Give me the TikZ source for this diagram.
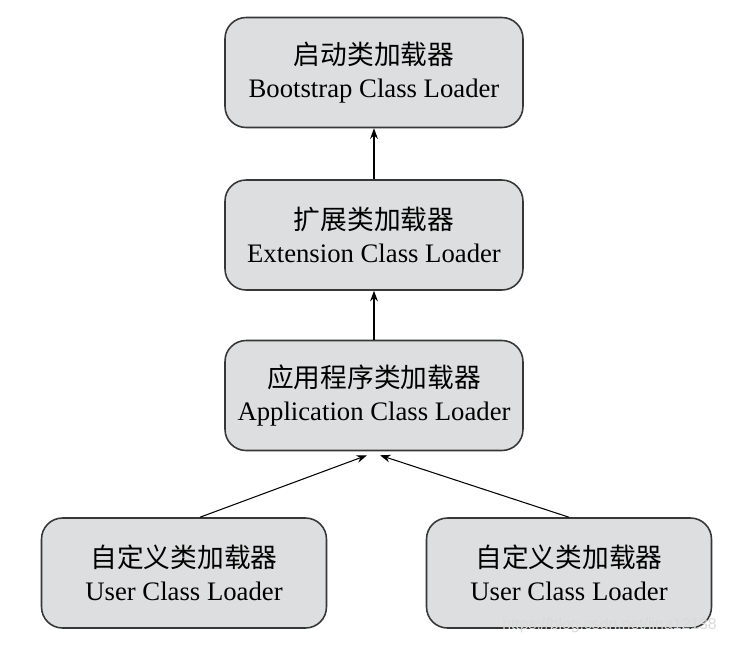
\documentclass[tikz,border=0pt]{standalone}
\usepackage{fontspec}
\setmainfont{Liberation Serif}
\newfontfamily\cjk{Noto Sans CJK SC}
\newfontfamily\wmfont{Liberation Sans}
\usetikzlibrary{positioning,arrows.meta}
\definecolor{boxgray}{RGB}{221,222,223}
\definecolor{boxline}{RGB}{55,55,55}
\tikzset{
  loaderbox/.style={draw=boxline, fill=boxgray, line width=0.9pt, rounded corners=0.42cm,
                    align=center, font=\fontsize{15.2}{17.5}\selectfont,
                    minimum width=5.96cm, minimum height=2.2cm, inner sep=0pt},
  userbox/.style={loaderbox, minimum width=5.7cm},
  parentarr/.style={-{Stealth[length=6pt,width=4.4pt]}, draw=black, line width=0.6pt},
}
\newcommand{\ldrtext}[2]{{\cjk #1}\\[1pt]#2}
\newcommand{\CX}{374}

\begin{document}
\begin{tikzpicture}[x=0.02cm, y=0.02cm]
    \useasboundingbox (0,0) rectangle (733,-647);
  
      \node[loaderbox] (boot) at (\CX,-72.5) {\ldrtext{启动类加载器}{Bootstrap Class Loader}};
      \node[loaderbox] (ext)  at (\CX,-235)  {\ldrtext{扩展类加载器}{Extension Class Loader}};
      \node[loaderbox] (app)  at (\CX,-395.5){\ldrtext{应用程序类加载器}{Application Class Loader}};
      \node[userbox] (userL) at (184,-573) {\ldrtext{自定义类加载器}{User Class Loader}};
      \node[userbox] (userR) at (569,-573) {\ldrtext{自定义类加载器}{User Class Loader}};
  
      \draw[parentarr] (ext) -- (boot);
      \draw[parentarr] (app) -- (ext);
      \draw[parentarr] ([xshift=0.32cm]userL.north) -- ([xshift=-0.14cm,yshift=-0.08cm]app.south);
      \draw[parentarr] (userR.north) -- ([xshift=0.12cm,yshift=-0.08cm]app.south);
  
      \node[font=\wmfont\fontsize{9}{10}\selectfont, text=gray!30, anchor=east] (wm) at (723,-625) {https://blog.csdn.net/lina12138};
  
    \end{tikzpicture}
\end{document}
